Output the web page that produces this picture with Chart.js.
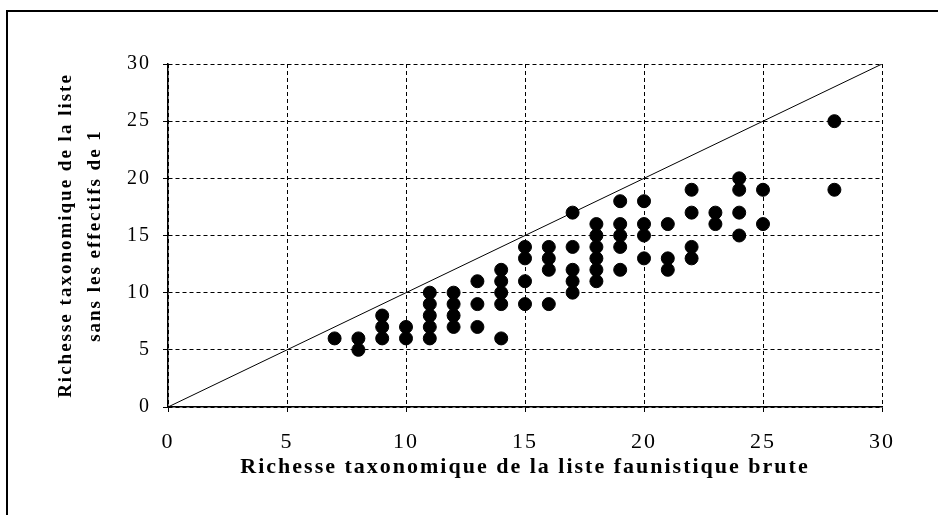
<!DOCTYPE html>
<html lang="fr">
<head>
    <meta charset="UTF-8">
    <title>Richesse taxonomique</title>
    <script src="https://cdn.jsdelivr.net/npm/chart.js"></script>
    <style>
        body {
            margin: 0;
            background: #fff;
        }
        .frame {
            position: absolute;
            left: 6px;
            top: 10px;
            width: 940px;
            height: 520px;
            border-left: 2px solid #000;
            border-top: 2px solid #000;
        }
        .container {
            position: absolute;
            left: 0;
            top: 0;
            width: 938px;
            height: 515px;
        }
    </style>
</head>
<body>
    <div class="frame"></div>
    <div class="container">
        <canvas id="scatterChart" width="938" height="515"></canvas>
    </div>

    <script>
        // richesse brute (x) et richesse sans les effectifs de 1 (y)
        const rawRichness = [
            7,
            8, 8,
            9, 9, 9,
            10, 10,
            11, 11, 11, 11, 11,
            12, 12, 12, 12,
            13, 13, 13,
            14, 14, 14, 14, 14,
            15, 15, 15, 15,
            16, 16, 16, 16,
            17, 17, 17, 17, 17,
            18, 18, 18, 18, 18, 18,
            19, 19, 19, 19, 19,
            20, 20, 20, 20,
            21, 21, 21,
            22, 22, 22, 22,
            23, 23,
            24, 24, 24, 24,
            25, 25,
            28, 28
        ];
        const reducedRichness = [
            6,
            6, 5,
            8, 7, 6,
            7, 6,
            10, 9, 8, 7, 6,
            10, 9, 8, 7,
            11, 9, 7,
            12, 11, 10, 9, 6,
            14, 13, 11, 9,
            14, 13, 12, 9,
            17, 14, 12, 11, 10,
            16, 15, 14, 13, 12, 11,
            18, 16, 15, 14, 12,
            18, 16, 15, 13,
            16, 13, 12,
            19, 17, 14, 13,
            17, 16,
            20, 19, 17, 15,
            19, 16,
            25, 19
        ];
        const identityX = [0, 30];
        const identityY = [0, 30];

        const points = rawRichness.map((x, i) => ({ x: x, y: reducedRichness[i] }));
        const identity = identityX.map((x, i) => ({ x: x, y: identityY[i] }));

        const serif = 'Liberation Serif';

        // the scanned original has loose letter spacing
        const spacing = {
            id: 'spacing',
            beforeDraw(chart) {
                chart.ctx.letterSpacing = '2px';
            }
        };

        // dashed grid lines, solid axis line
        const gridDash = (c) => c.type === 'tick' ? [4, 3] : [];

        let ctx = document.getElementById('scatterChart').getContext('2d');
        let chart = new Chart(ctx, {
            type: 'scatter',
            data: {
                datasets: [{
                    label: 'Listes',
                    data: points,
                    backgroundColor: '#000',
                    borderColor: '#000',
                    pointRadius: 6.5,
                    pointHoverRadius: 6.5
                }, {
                    type: 'line',
                    label: 'y = x',
                    data: identity,
                    borderColor: '#000',
                    borderWidth: 1,
                    pointRadius: 0,
                    fill: false
                }]
            },
            plugins: [spacing],
            options: {
                responsive: false,
                animation: false,
                layout: {
                    padding: { left: 52, top: 64, right: 56, bottom: 30 }
                },
                plugins: {
                    legend: { display: false },
                    tooltip: { enabled: false }
                },
                scales: {
                    x: {
                        type: 'linear',
                        min: 0,
                        max: 30,
                        afterFit: (scale) => { scale.height = 78; },
                        ticks: {
                            stepSize: 5,
                            color: '#000',
                            padding: 17,
                            font: { family: serif, size: 22 }
                        },
                        grid: {
                            color: '#000',
                            tickLength: 5
                        },
                        border: { display: true, color: '#000', width: 1.5, dash: gridDash },
                        title: {
                            display: true,
                            text: 'Richesse taxonomique de la liste faunistique brute',
                            color: '#000',
                            padding: { top: 0, bottom: 4 },
                            font: { family: serif, size: 22, weight: 'bold' }
                        }
                    },
                    y: {
                        type: 'linear',
                        min: 0,
                        max: 30,
                        afterFit: (scale) => { scale.width = 116; },
                        ticks: {
                            stepSize: 5,
                            color: '#000',
                            padding: 12,
                            font: { family: serif, size: 20 }
                        },
                        grid: {
                            color: '#000',
                            tickLength: 5
                        },
                        border: { display: true, color: '#000', width: 1.5, dash: gridDash },
                        title: {
                            display: true,
                            text: ['Richesse taxonomique de la liste', 'sans les effectifs de 1'],
                            color: '#000',
                            padding: { top: 0, bottom: 0 },
                            font: { family: serif, size: 19, weight: 'bold', lineHeight: 1.5 }
                        }
                    }
                }
            }
        });
    </script>
</body>
</html>
